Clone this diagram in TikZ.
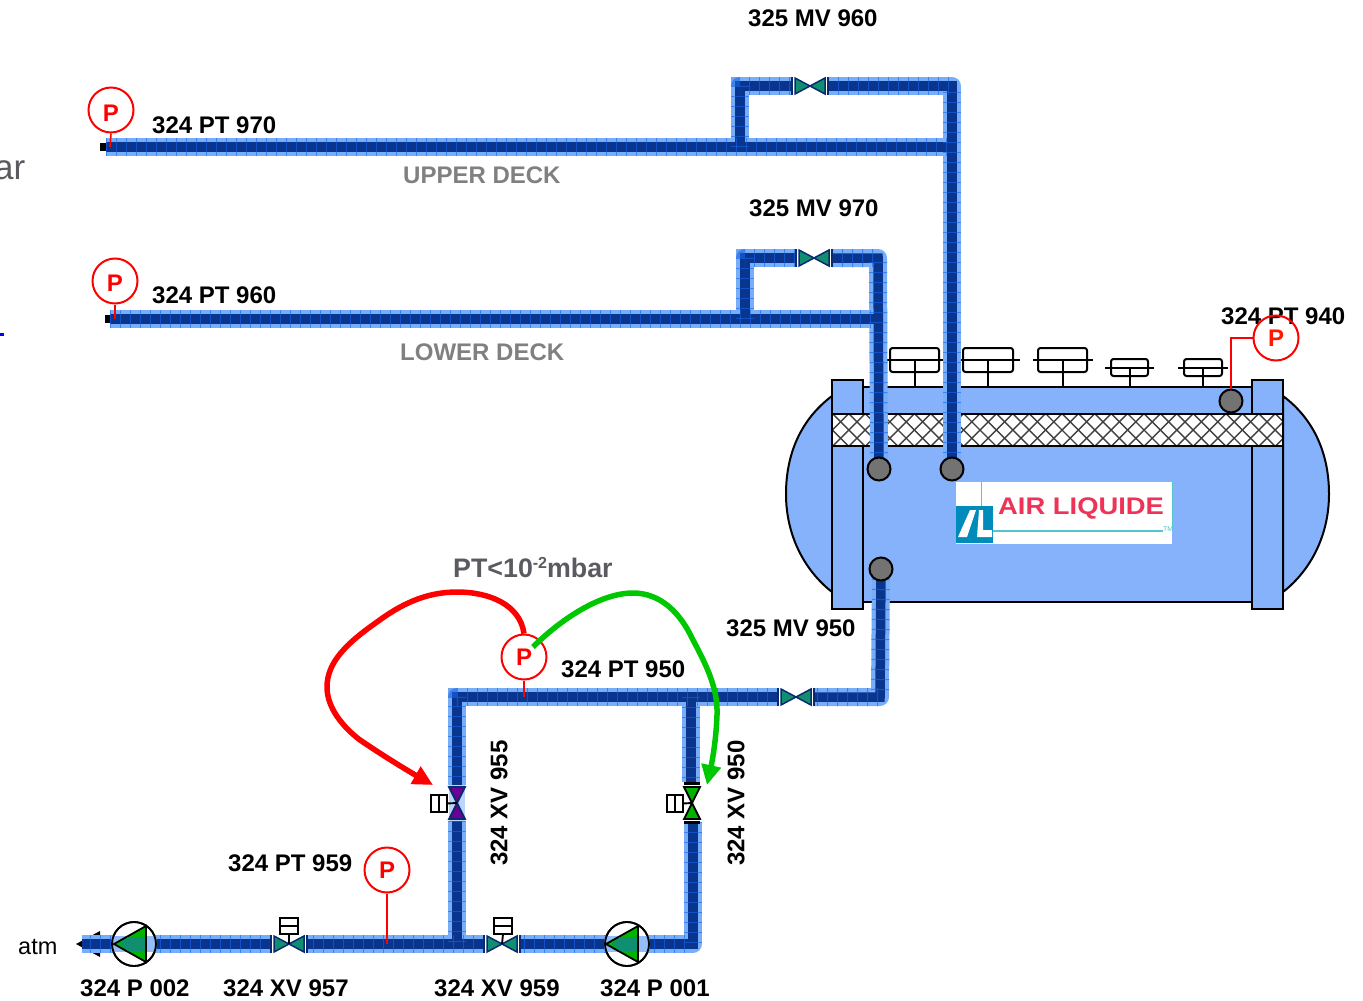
\documentclass[tikz,border=0pt]{standalone}
\usepackage{fontspec}
\setmainfont{Liberation Sans}
\usetikzlibrary{arrows.meta,calc}
\definecolor{tankblue}{HTML}{85B2FB}
\definecolor{halo}{HTML}{78AEF8}
\definecolor{core}{HTML}{0A358F}
\definecolor{meshblue}{HTML}{1566E8}
\definecolor{valveteal}{HTML}{0F8F70}
\definecolor{valvedark}{HTML}{0A2A70}
\definecolor{pgreen}{HTML}{00B400}
\definecolor{arrowgreen}{HTML}{00C800}
\definecolor{labgray}{HTML}{808080}
\definecolor{labdark}{HTML}{5A5A60}
\definecolor{logored}{HTML}{EE3358}
\definecolor{logoteal}{HTML}{008CBA}
\definecolor{logoline}{HTML}{55C5D0}
\pgfdeclarelayer{tanklayer}
\pgfdeclarelayer{pipelayer}
\pgfsetlayers{tanklayer,pipelayer,main}
\tikzset{
  pipehalo/.style={draw=halo,line width=18pt,line join=round},
  pipecore/.style={draw=core,line width=9.5pt,line join=miter},
  pipemesh/.style={draw=meshblue,line width=18pt,dash pattern=on 1pt off 9pt,opacity=.6},
  lab/.style={font=\fontsize{24}{28}\selectfont\bfseries,anchor=base west,inner sep=0pt,text=black},
  graylab/.style={lab,text=labgray},
  ptnode/.style={circle,draw=red,line width=2pt,minimum size=45pt,inner sep=0pt,text=red,font=\fontsize{24}{28}\selectfont\bfseries},
  stem/.style={draw=red,line width=1.6pt},
  port/.style={circle,draw=black,line width=2pt,fill=gray!90!black,minimum size=23pt,inner sep=0pt},
  hv/.style={minimum width=36pt,minimum height=16pt,inner sep=0pt},
  vv/.style={minimum width=16pt,minimum height=36pt,inner sep=0pt},
  act/.style={draw=black,line width=1.9pt,fill=white},
  inst/.style={draw=black,line width=2pt},
  pumpc/.style={circle,draw=black,line width=1.8pt,minimum size=44pt,inner sep=0pt},
  tanko/.style={draw=black,line width=2pt,fill=tankblue},
  flow/.style={line width=5.5pt,-{Triangle[length=20pt,width=19pt]}}
}
\newcommand{\allpipes}[1]{%
  \draw[#1] (u0) -- (u2);
  \draw[#1] (u1) -- (ul) -- (v960.west);
  \draw[#1] (v960.east) -- (ur) -- (g2.center);
  \draw[#1] (l0) -- (l2);
  \draw[#1] (l1) -- (ll) -- (v970.west);
  \draw[#1] (v970.east) -- (lr) -- (g1.center);
  \draw[#1] (g3.center) -- (b1) -- (v950.east);
  \draw[#1] (v950.west) -- (b2) -- (x955.north);
  \draw[#1] (x955.south) -- (b4);
  \draw[#1] (b3) -- (b3e);
  \draw[#1] (b5s) -- (b5) -- (x959.east);
  \draw[#1] (x959.west) -- (x957.east);
  \draw[#1] (x957.west) -- (b6);}
\newcommand{\hvalve}[2]{%
  \draw[valvedark,line width=1.5pt,fill=#2] ($(#1)+(-15,-8)$) -- ($(#1)+(15,8)$) -- ($(#1)+(15,-8)$) -- ($(#1)+(-15,8)$) -- cycle;
  \draw[valvedark,line width=1.5pt] ($(#1)+(-18,-9)$) -- ($(#1)+(-18,9)$) ($(#1)+(18,-9)$) -- ($(#1)+(18,9)$);}
\newcommand{\vvalve}[3]{%
  \draw[#3,line width=1.8pt,fill=#2] ($(#1)+(-8,-16)$) -- ($(#1)+(8,16)$) -- ($(#1)+(-8,16)$) -- ($(#1)+(8,-16)$) -- cycle;}
\newcommand{\instr}[6]{% left right top bottom x0 x1
  \draw[inst,rounded corners=2.5pt] (#1,#3) rectangle (#2,#4);
  \draw[inst] (#5,{(#3+#4)/2}) -- (#6,{(#3+#4)/2});
  \draw[inst] ({(#1+#2)/2},{(#3+#4)/2}) -- ({(#1+#2)/2},387);}
\begin{document}
\begin{tikzpicture}[x=1pt,y=-1pt]
\useasboundingbox (0,0) rectangle (1363,1001);

% ---- nodes that pipes attach to
\node[port] (g1) at (879,469) {};
\node[port] (g2) at (952,469) {};
\node[port] (g3) at (881,569) {};
\node[port] (g4) at (1231,401) {};
\node[hv] (v960) at (810,86) {};
\node[hv] (v970) at (814,258) {};
\node[hv] (v950) at (796,697) {};
\node[vv] (x955) at (457,803) {};
\node[vv] (x950) at (692,803) {};
\node[hv] (x959) at (502,944) {};
\node[hv] (x957) at (289,944) {};
\node[ptnode] (p970) at (111,110) {\raisebox{-3pt}[\height][\depth]{P}};
\node[ptnode] (p960) at (115,281) {\raisebox{-2pt}[\height][\depth]{P}};
\node[ptnode] (p950) at (524,657) {P};
\node[ptnode] (p959) at (387,870) {P};
\coordinate (u0) at (106,147); \coordinate (u1) at (740,147); \coordinate (u2) at (952,147);
\coordinate (ul) at (740,86); \coordinate (ur) at (952,86);
\coordinate (l0) at (110,319); \coordinate (l1) at (745,319); \coordinate (l2) at (878,319);
\coordinate (ll) at (745,258); \coordinate (lr) at (878,258);
\coordinate (b1) at (880,697); \coordinate (b2) at (457,697); \coordinate (b3) at (691,697);
\coordinate (b3e) at (691,782); \coordinate (b5s) at (693,822);
\coordinate (b4) at (457,944); \coordinate (b5) at (693,944); \coordinate (b6) at (82,944);
\coordinate (st1) at (100,147); \coordinate (st2) at (105,319);

% ---- tank
\begin{pgfonlayer}{tanklayer}
\draw[tanko] (832,396) .. controls (800,420) and (786,455) .. (786,494) .. controls (786,535) and (804,570) .. (832,592) -- cycle;
\draw[tanko] (1283,396) .. controls (1315,420) and (1329,455) .. (1329,494) .. controls (1329,535) and (1311,570) .. (1283,592) -- cycle;
\draw[tanko] (863,387) rectangle (1252,602);
\draw[tanko] (832,380) rectangle (863,609);
\draw[tanko] (1252,380) rectangle (1283,609);
\fill[white] (832,414) rectangle (1283,446);
\begin{scope}
\clip (832,414) rectangle (1283,446);
\foreach \k in {0,16.4,...,520}{
  \draw[black!75,line width=1.4pt] ({800+\k},414) -- ({832+\k},446);
  \draw[black!75,line width=1.4pt] ({832+\k},414) -- ({800+\k},446);
}
\end{scope}
\draw[black,line width=2pt] (832,414) rectangle (1283,446);
\instr{890}{939}{348}{372}{886}{945}
\instr{963}{1013}{348}{372}{958}{1020}
\instr{1038}{1087}{348}{372}{1033}{1093}
\instr{1111}{1148}{359}{376}{1105}{1154}
\instr{1184}{1222}{359}{376}{1178}{1228}
% logo
\fill[white] (956,482) rectangle (1172,544);
\draw[logoline,line width=1pt] (981,482) -- (981,506);
\draw[logoline,line width=.8pt] (1172,482) -- (1172,530);
\draw[logoline,line width=1.4pt] (993,531) -- (1163,531);
\fill[logoteal] (956,506) rectangle (993,543);
\fill[white] (958,537) -- (970,510) -- (976,510) -- (967,537) -- cycle;
\fill[white] (979,510) -- (983,510) -- (983,530) -- (992,530) -- (992,537) -- (977,537) -- cycle;
% pipe stubs and outlet arrow below the pipes
\draw[black,line width=8pt] (st1) -- (u0);
\draw[black,line width=8pt] (st2) -- (l0);
\fill[black] (76,944) -- (100,931) -- (100,957) -- cycle;
\end{pgfonlayer}
\node[font=\fontsize{24}{28}\selectfont\bfseries,text=logored,anchor=base west,inner sep=0pt,xscale=1.14,transform shape] (logo) at (998,514) {AIR LIQUIDE};
\node[font=\fontsize{7}{8}\selectfont,text=logoline,anchor=west,inner sep=0pt] (tm) at (1163,529) {TM};

% ---- pipes: all halos, then all cores, then the mesh
\begin{pgfonlayer}{pipelayer}
\allpipes{pipehalo}
\allpipes{pipecore}
\allpipes{pipemesh}
\end{pgfonlayer}

% ---- valves
\hvalve{v960}{valveteal}
\hvalve{v970}{valveteal}
\hvalve{v950}{valveteal}
\hvalve{x959}{valveteal}
\hvalve{x957}{valveteal}
\draw[halo,line width=16pt,opacity=.5] (x955.north) -- (x955.south);
\vvalve{x955}{violet!55!blue!80!red}{valvedark}
\vvalve{x950}{pgreen}{black}
\draw[black,line width=3pt] (684,783) -- (700,783);
\draw[black,line width=3pt] (684,822) -- (700,822);
% actuators
\draw[act] (431,795) rectangle (447,812); \draw[act] (439,795) -- (439,812); \draw[act] (447,803.5) -- (x955.center);
\draw[act] (667,795) rectangle (683,812); \draw[act] (675,795) -- (675,812); \draw[act] (683,803.5) -- (x950.center);
\draw[act] (280,918) rectangle (298,934); \draw[act] (280,926) -- (298,926); \draw[act] (289,934) -- (x957.center);
\draw[act] (494,918) rectangle (512,934); \draw[act] (494,926) -- (512,926); \draw[act] (503,934) -- (x959.center);

% ---- pumps
\node[pumpc,fill=white] (pu1) at (627,944) {};
\node[pumpc,fill=white] (pu2) at (134,944) {};
\draw[halo,line width=16pt,opacity=.8] (pu1.west) -- (pu1.east);
\draw[halo,line width=16pt,opacity=.8] (pu2.west) -- (pu2.east);
\draw[black,line width=1.8pt,fill=pgreen] (606,944) -- (638,926) -- (638,962) -- cycle;
\draw[black,line width=1.8pt,fill=pgreen] (114,944) -- (146,926) -- (146,962) -- cycle;
\fill[valveteal] (620,937) -- (637,937) -- (637,951) -- (620,951) -- (612,944) -- cycle;
\fill[valveteal] (128,937) -- (145,937) -- (145,951) -- (128,951) -- (120,944) -- cycle;
\node[pumpc] at (pu1) {};
\node[pumpc] at (pu2) {};

% ---- pressure sensors
\draw[stem] (p970.south) -- (110,147);
\draw[stem] (p960.south) -- (115,319);
\draw[stem] (p950.south) -- (524,697);
\draw[stem] (p959.south) -- (387,944);

% ---- labels
\node[lab] (t1) at (748,27) {325 MV 960};
\node[lab] (t2) at (152,133) {324 PT 970};
\node[graylab] (t3) at (403,183) {UPPER DECK};
\node[lab] (t4) at (749,216) {325 MV 970};
\node[lab] (t5) at (152,303) {324 PT 960};
\node[graylab] (t6) at (400,360) {LOWER DECK};
\node[lab] (t7) at (1221,324) {324 PT 940};
\node[ptnode,text=red!80!orange] (p940) at (1276,338) {P};
\draw[stem] (p940.west) -| (g4.north);
\node[lab,text=labdark,font=\fontsize{26.8}{28}\selectfont\bfseries] (t8) at (453,577) {PT<10\raisebox{.62ex}{\fontsize{16}{17}\selectfont -2}mbar};
\node[lab] (t9) at (726,636) {325 MV 950};
\node[lab] (t10) at (561,677) {324 PT 950};
\node[lab,rotate=90,anchor=center] (t11) at (499,803) {324 XV 955};
\node[lab,rotate=90,anchor=center] (t12) at (736,803) {324 XV 950};
\node[lab] (t13) at (228,871) {324 PT 959};
\node[font=\fontsize{23.5}{26}\selectfont,anchor=base west,inner sep=0pt] (t14) at (18,954) {atm};
\node[lab] (t15) at (80,996) {324 P 002};
\node[lab] (t16) at (223,996) {324 XV 957};
\node[lab] (t17) at (434,996) {324 XV 959};
\node[lab] (t18) at (600,996) {324 P 001};
\node[font=\fontsize{35}{38}\selectfont,text=labdark,anchor=base west,inner sep=0pt] (t19) at (-6,179) {ar};
\fill[blue] (0,333) rectangle (4,335.5);

% ---- control arrows
\coordinate (ra) at (433,785);
\coordinate (ga0) at (533,647);
\coordinate (ga) at (707,785);
\draw[flow,red,line join=round] (p950.north) .. controls (520,605) and (490,592) .. (457,592) .. controls (425,592) and (400,605) .. (377,622) .. controls (347,643) and (327,662) .. (327,687) .. controls (327,708) and (343,727) .. (360,740) .. controls (385,757) and (410,772) .. (ra);
\draw[flow,arrowgreen,line join=round] (ga0) .. controls (560,620) and (600,593) .. (633,593) .. controls (660,593) and (680,612) .. (693,640) .. controls (708,668) and (718,690) .. (717,715) .. controls (716,742) and (712,762) .. (ga);
\end{tikzpicture}
\end{document}
